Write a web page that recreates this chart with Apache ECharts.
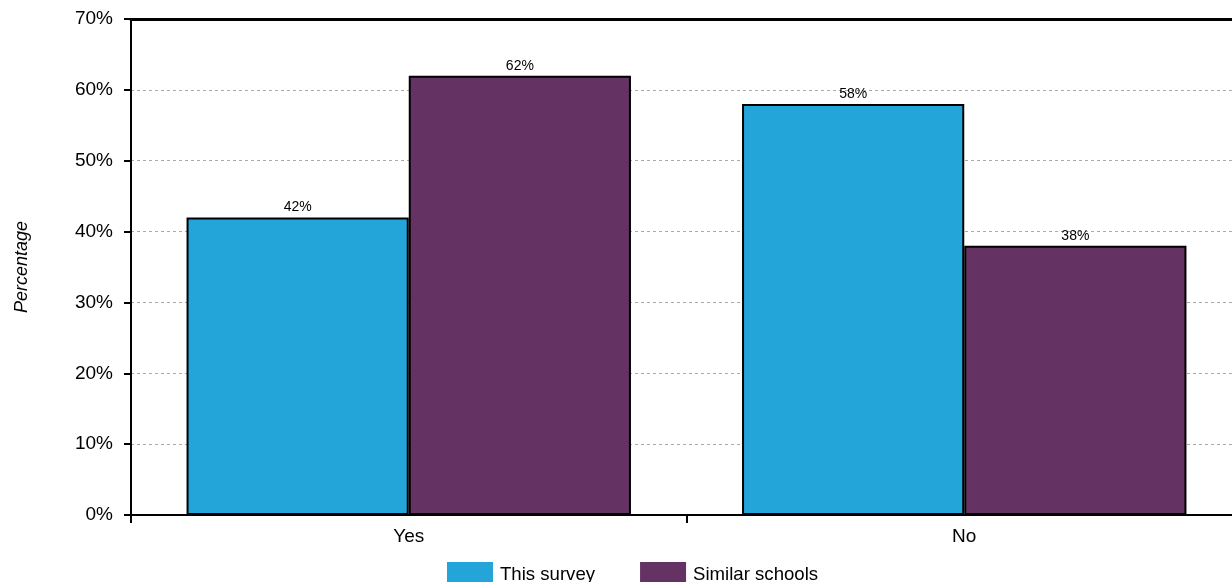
<!DOCTYPE html>
<html>
<head>
<meta charset="utf-8">
<script src="https://cdn.jsdelivr.net/npm/echarts@6/dist/echarts.min.js"></script>
<style>
html,body{margin:0;padding:0;background:#fff;overflow:hidden;}
#chart{width:1242px;height:582px;}
</style>
</head>
<body>
<div id="chart"></div>
<script>
const categories = ['Yes', 'No'];
const seriesNames = ['This survey', 'Similar schools'];
const thisSurvey = [42, 58];
const similarSchools = [62, 38];
const yTicks = { min: 0, max: 70, interval: 10 };
const colors = ['#23A5D9', '#643263'];

const chart = echarts.init(document.getElementById('chart'));
const font = 'Liberation Sans, Arial, sans-serif';
const labelStyle = { show: true, position: 'top', formatter: '{c}%', color: '#000', fontSize: 14, fontFamily: font, distance: 3 };

chart.setOption({
  animation: false,
  textStyle: { fontFamily: font },
  grid: { left: 131, top: 19, height: 496, right: 0, containLabel: false },
  legend: {
    data: seriesNames,
    top: 557,
    left: 442,
    itemWidth: 46,
    itemHeight: 26,
    itemGap: 45,
    icon: 'rect',
    itemStyle: { borderWidth: 0 },
    textStyle: { fontSize: 18.6, color: '#000', fontFamily: font, padding: [4, 0, 0, 2] }
  },
  xAxis: [{
    type: 'category',
    data: categories,
    axisLine: { lineStyle: { color: '#000', width: 2 } },
    axisTick: { show: true, length: 8, lineStyle: { color: '#000', width: 2 } },
    axisLabel: { color: '#000', fontSize: 19, margin: 12 },
    splitLine: { show: false }
  }, {
    type: 'category',
    data: categories,
    position: 'top',
    axisLine: { show: true, lineStyle: { color: '#000', width: 3 } },
    axisTick: { show: false },
    axisLabel: { show: false }
  }],
  yAxis: {
    type: 'value',
    min: yTicks.min, max: yTicks.max, interval: yTicks.interval,
    name: 'Percentage',
    nameLocation: 'middle',
    nameGap: 100,
    nameTextStyle: { fontStyle: 'italic', fontSize: 18, color: '#000' },
    axisLine: { show: true, lineStyle: { color: '#000', width: 2 } },
    axisTick: { show: true, length: 7, lineStyle: { color: '#000', width: 2 } },
    axisLabel: { formatter: '{value}%', color: '#000', fontSize: 19, margin: 18 },
    splitLine: { show: true, lineStyle: { color: '#aaa', type: [3, 3], width: 1 } }
  },
  series: [{
    name: seriesNames[0], type: 'bar', data: thisSurvey,
    barGap: '0%', barCategoryGap: '20%',
    itemStyle: { color: colors[0], borderColor: '#000', borderWidth: 2 },
    label: labelStyle
  }, {
    name: seriesNames[1], type: 'bar', data: similarSchools,
    barGap: '0%', barCategoryGap: '20%',
    itemStyle: { color: colors[1], borderColor: '#000', borderWidth: 2 },
    label: labelStyle
  }]
});
</script>
</body>
</html>
